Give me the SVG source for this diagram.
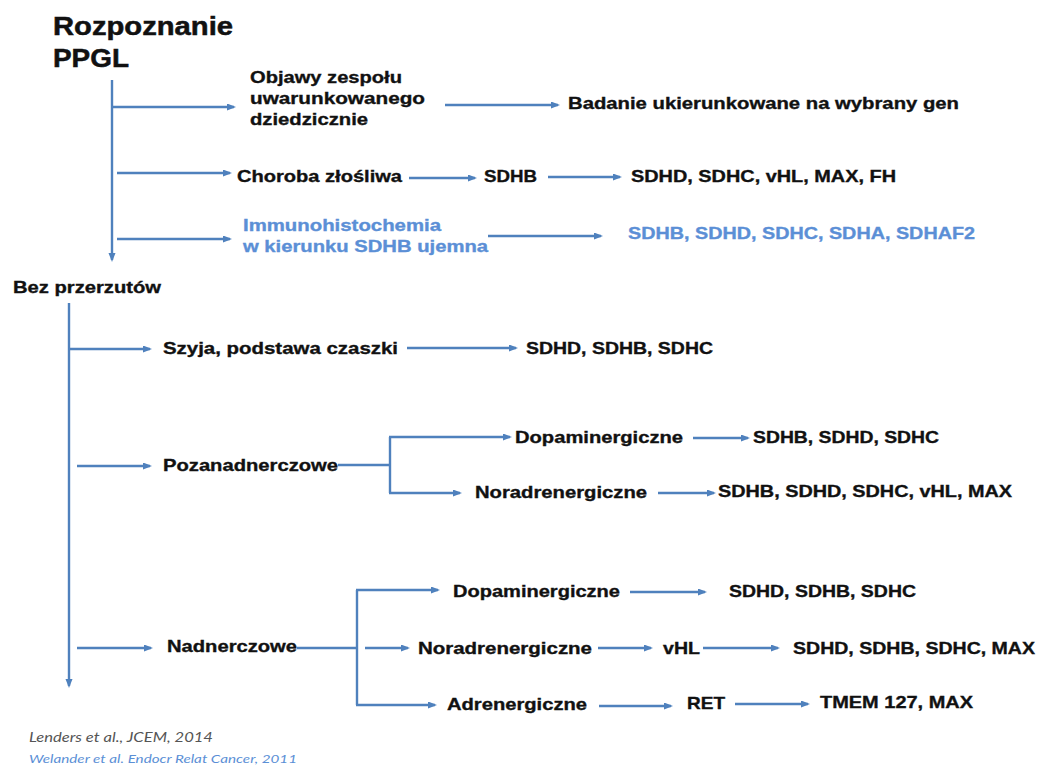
<svg xmlns="http://www.w3.org/2000/svg" width="1039" height="769" viewBox="0 0 1039 769">
  <style>
    .t { font-family: "Liberation Sans", Arial, sans-serif; font-weight: bold; font-size: 17px; fill: #111; stroke: #111; stroke-width: 0.35; }
    .title { font-size: 25px; stroke-width: 0.5; }
    .blue { fill: #5b8fd6; stroke: #5b8fd6; }
    .ref { font-family: Lato, "Open Sans", sans-serif; font-style: italic; font-size: 12.5px; fill: #555; }
    .ref2 { fill: #5b8fd6; font-size: 11.5px; }
    .c path { fill: none; stroke: #4f81bd; stroke-width: 2.4; }
  </style>
  <defs>
    <marker id="ah" markerUnits="userSpaceOnUse" markerWidth="10" markerHeight="8" refX="7" refY="3.5" orient="auto">
      <path d="M0,0 L9,3.5 L0,7 z" fill="#4f81bd"/>
    </marker>
  </defs>
  <rect width="1039" height="769" fill="#fff"/>

  <!-- connectors -->
  <g id="connectors" class="c">
    <path d="M112 80 V260" marker-end="url(#ah)"/>
    <path d="M113 107 H234" marker-end="url(#ah)"/>
    <path d="M445 105 H558" marker-end="url(#ah)"/>
    <path d="M117 173 H230" marker-end="url(#ah)"/>
    <path d="M409 178 H475" marker-end="url(#ah)"/>
    <path d="M548 177 H620" marker-end="url(#ah)"/>
    <path d="M117 239 H230" marker-end="url(#ah)"/>
    <path d="M488 236 H601" marker-end="url(#ah)"/>

    <path d="M69 303 V686" marker-end="url(#ah)"/>
    <path d="M69 349 H150" marker-end="url(#ah)"/>
    <path d="M407 348 H516" marker-end="url(#ah)"/>

    <path d="M77 466 H150" marker-end="url(#ah)"/>
    <path d="M338 465 H390"/>
    <path d="M390 437 V493"/>
    <path d="M389 437 H510" marker-end="url(#ah)"/>
    <path d="M389 493 H460" marker-end="url(#ah)"/>
    <path d="M693 438 H748" marker-end="url(#ah)"/>
    <path d="M658 493 H714" marker-end="url(#ah)"/>

    <path d="M77 648 H151" marker-end="url(#ah)"/>
    <path d="M297 648 H357"/>
    <path d="M357 590 V705"/>
    <path d="M356 590 H438" marker-end="url(#ah)"/>
    <path d="M365 648 H408" marker-end="url(#ah)"/>
    <path d="M356 705 H435" marker-end="url(#ah)"/>
    <path d="M630 592 H705" marker-end="url(#ah)"/>
    <path d="M598 648 H651" marker-end="url(#ah)"/>
    <path d="M703 648 H778" marker-end="url(#ah)"/>
    <path d="M599 706 H671" marker-end="url(#ah)"/>
    <path d="M735 704 H808" marker-end="url(#ah)"/>
  </g>

  <!-- nodes -->
  <g id="root">
    <text class="t title" x="53" y="35" textLength="180" lengthAdjust="spacingAndGlyphs">Rozpoznanie</text>
    <text class="t title" x="53" y="67" textLength="76" lengthAdjust="spacingAndGlyphs">PPGL</text>
  </g>
  <g id="n-objawy">
    <text class="t" x="250" y="83" textLength="152" lengthAdjust="spacingAndGlyphs">Objawy zespołu</text>
    <text class="t" x="250" y="104" textLength="175" lengthAdjust="spacingAndGlyphs">uwarunkowanego</text>
    <text class="t" x="250" y="125" textLength="118" lengthAdjust="spacingAndGlyphs">dziedzicznie</text>
  </g>
  <g id="n-badanie">
    <text class="t" x="568" y="109" textLength="391" lengthAdjust="spacingAndGlyphs">Badanie ukierunkowane na wybrany gen</text>
  </g>
  <g id="n-choroba">
    <text class="t" x="237" y="182" textLength="165" lengthAdjust="spacingAndGlyphs">Choroba złośliwa</text>
  </g>
  <g id="n-sdhb">
    <text class="t" x="484" y="182" textLength="53" lengthAdjust="spacingAndGlyphs">SDHB</text>
  </g>
  <g id="n-malignant-genes">
    <text class="t" x="631" y="182" textLength="265" lengthAdjust="spacingAndGlyphs">SDHD, SDHC, vHL, MAX, FH</text>
  </g>
  <g id="n-ihc">
    <text class="t blue" x="243" y="231" textLength="198" lengthAdjust="spacingAndGlyphs">Immunohistochemia</text>
    <text class="t blue" x="243" y="252" textLength="245" lengthAdjust="spacingAndGlyphs">w kierunku SDHB ujemna</text>
  </g>
  <g id="n-ihc-genes">
    <text class="t blue" x="628" y="239" textLength="347" lengthAdjust="spacingAndGlyphs">SDHB, SDHD, SDHC, SDHA, SDHAF2</text>
  </g>

  <g id="n-bez">
    <text class="t" x="13" y="293" textLength="148" lengthAdjust="spacingAndGlyphs">Bez przerzutów</text>
  </g>
  <g id="n-szyja">
    <text class="t" x="163" y="354" textLength="235" lengthAdjust="spacingAndGlyphs">Szyja, podstawa czaszki</text>
  </g>
  <g id="n-szyja-genes">
    <text class="t" x="526" y="354" textLength="187" lengthAdjust="spacingAndGlyphs">SDHD, SDHB, SDHC</text>
  </g>

  <g id="n-pozanadnerczowe">
    <text class="t" x="163" y="471" textLength="175" lengthAdjust="spacingAndGlyphs">Pozanadnerczowe</text>
  </g>
  <g id="n-poza-dopa">
    <text class="t" x="515" y="443" textLength="168" lengthAdjust="spacingAndGlyphs">Dopaminergiczne</text>
  </g>
  <g id="n-poza-dopa-genes">
    <text class="t" x="753" y="443" textLength="186" lengthAdjust="spacingAndGlyphs">SDHB, SDHD, SDHC</text>
  </g>
  <g id="n-poza-nora">
    <text class="t" x="475" y="498" textLength="172" lengthAdjust="spacingAndGlyphs">Noradrenergiczne</text>
  </g>
  <g id="n-poza-nora-genes">
    <text class="t" x="718" y="497" textLength="294" lengthAdjust="spacingAndGlyphs">SDHB, SDHD, SDHC, vHL, MAX</text>
  </g>

  <g id="n-nadnerczowe">
    <text class="t" x="167" y="652" textLength="130" lengthAdjust="spacingAndGlyphs">Nadnerczowe</text>
  </g>
  <g id="n-nad-dopa">
    <text class="t" x="453" y="597" textLength="167" lengthAdjust="spacingAndGlyphs">Dopaminergiczne</text>
  </g>
  <g id="n-nad-dopa-genes">
    <text class="t" x="729" y="597" textLength="187" lengthAdjust="spacingAndGlyphs">SDHD, SDHB, SDHC</text>
  </g>
  <g id="n-nad-nora">
    <text class="t" x="418" y="654" textLength="174" lengthAdjust="spacingAndGlyphs">Noradrenergiczne</text>
  </g>
  <g id="n-vhl">
    <text class="t" x="663" y="654" textLength="37" lengthAdjust="spacingAndGlyphs">vHL</text>
  </g>
  <g id="n-nad-nora-genes">
    <text class="t" x="793" y="654" textLength="242" lengthAdjust="spacingAndGlyphs">SDHD, SDHB, SDHC, MAX</text>
  </g>
  <g id="n-nad-adre">
    <text class="t" x="447" y="710" textLength="140" lengthAdjust="spacingAndGlyphs">Adrenergiczne</text>
  </g>
  <g id="n-ret">
    <text class="t" x="687" y="709" textLength="38" lengthAdjust="spacingAndGlyphs">RET</text>
  </g>
  <g id="n-tmem">
    <text class="t" x="820" y="708" textLength="153" lengthAdjust="spacingAndGlyphs">TMEM 127, MAX</text>
  </g>

  <!-- references -->
  <g id="refs">
    <text class="ref" x="29" y="742" textLength="184" lengthAdjust="spacingAndGlyphs">Lenders et al., JCEM, 2014</text>
    <text class="ref ref2" x="29" y="763" textLength="268" lengthAdjust="spacingAndGlyphs">Welander et al. Endocr Relat Cancer, 2011</text>
  </g>
</svg>
